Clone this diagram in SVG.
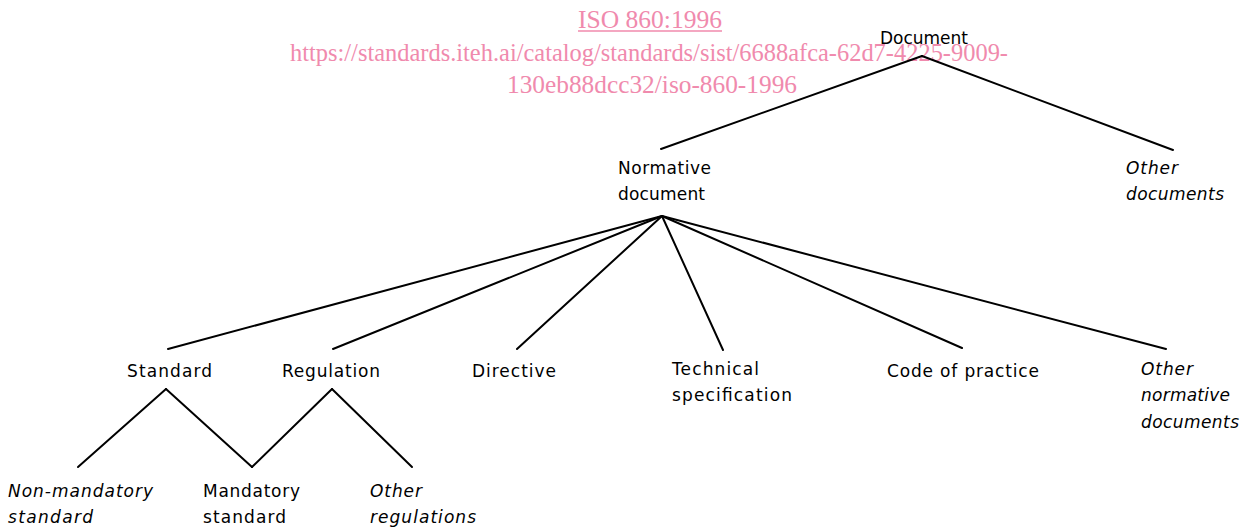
<svg xmlns="http://www.w3.org/2000/svg" width="1247" height="529" viewBox="0 0 1247 529">
<style>
.t{font-family:"DejaVu Sans","Liberation Sans",sans-serif;font-size:17px;fill:#000}
.i{font-style:italic}
.w{font-family:"Liberation Serif",serif;font-size:25px;fill:#f08aad}
.c line{stroke:#000;stroke-width:2;stroke-linecap:round}
</style>
<rect width="1247" height="529" fill="#fff"/>
<g id="watermark">
<text class="w" x="650" y="28" text-anchor="middle" textLength="144" lengthAdjust="spacingAndGlyphs">ISO 860:1996</text>
<line x1="578" y1="31" x2="722" y2="31" stroke="#f08aad" stroke-width="1.3"/>
<text class="w" x="290" y="61" textLength="718" lengthAdjust="spacingAndGlyphs">https://standards.iteh.ai/catalog/standards/sist/6688afca-62d7-4225-9009-</text>
<text class="w" x="507" y="93" textLength="290" lengthAdjust="spacingAndGlyphs">130eb88dcc32/iso-860-1996</text>
</g>
<g id="connectors" class="c">
<line x1="922" y1="56" x2="661" y2="149"/>
<line x1="922" y1="56" x2="1173" y2="150"/>
<line x1="662" y1="216" x2="168" y2="349"/>
<line x1="662" y1="216" x2="333" y2="349"/>
<line x1="662" y1="216" x2="517" y2="349"/>
<line x1="662" y1="216" x2="723" y2="350"/>
<line x1="662" y1="216" x2="962" y2="348"/>
<line x1="662" y1="216" x2="1166" y2="349"/>
<line x1="166" y1="389" x2="78" y2="467"/>
<line x1="166" y1="389" x2="252" y2="467"/>
<line x1="332" y1="389" x2="252" y2="467"/>
<line x1="332" y1="389" x2="412" y2="467"/>
</g>
<g id="document"><text class="t" x="880" y="44" textLength="88">Document</text></g>
<g id="normative-document"><text class="t" x="618" y="174" textLength="93">Normative</text><text class="t" x="618" y="200" textLength="87">document</text></g>
<g id="other-documents"><text class="t i" x="1126" y="174" textLength="52">Other</text><text class="t i" x="1126" y="200" textLength="98">documents</text></g>
<g id="standard"><text class="t" x="127" y="377" textLength="85">Standard</text></g>
<g id="regulation"><text class="t" x="282" y="377" textLength="98">Regulation</text></g>
<g id="directive"><text class="t" x="472" y="377" textLength="84">Directive</text></g>
<g id="technical-specification"><text class="t" x="672" y="375" textLength="87">Technical</text><text class="t" x="672" y="401" textLength="120">specification</text></g>
<g id="code-of-practice"><text class="t" x="887" y="377" textLength="152">Code of practice</text></g>
<g id="other-normative-documents"><text class="t i" x="1141" y="375" textLength="52">Other</text><text class="t i" x="1141" y="401" textLength="89">normative</text><text class="t i" x="1141" y="428" textLength="98">documents</text></g>
<g id="non-mandatory-standard"><text class="t i" x="8" y="497" textLength="145">Non-mandatory</text><text class="t i" x="8" y="523" textLength="85">standard</text></g>
<g id="mandatory-standard"><text class="t" x="203" y="497" textLength="97">Mandatory</text><text class="t" x="203" y="523" textLength="83">standard</text></g>
<g id="other-regulations"><text class="t i" x="370" y="497" textLength="52">Other</text><text class="t i" x="370" y="523" textLength="106">regulations</text></g>
</svg>
